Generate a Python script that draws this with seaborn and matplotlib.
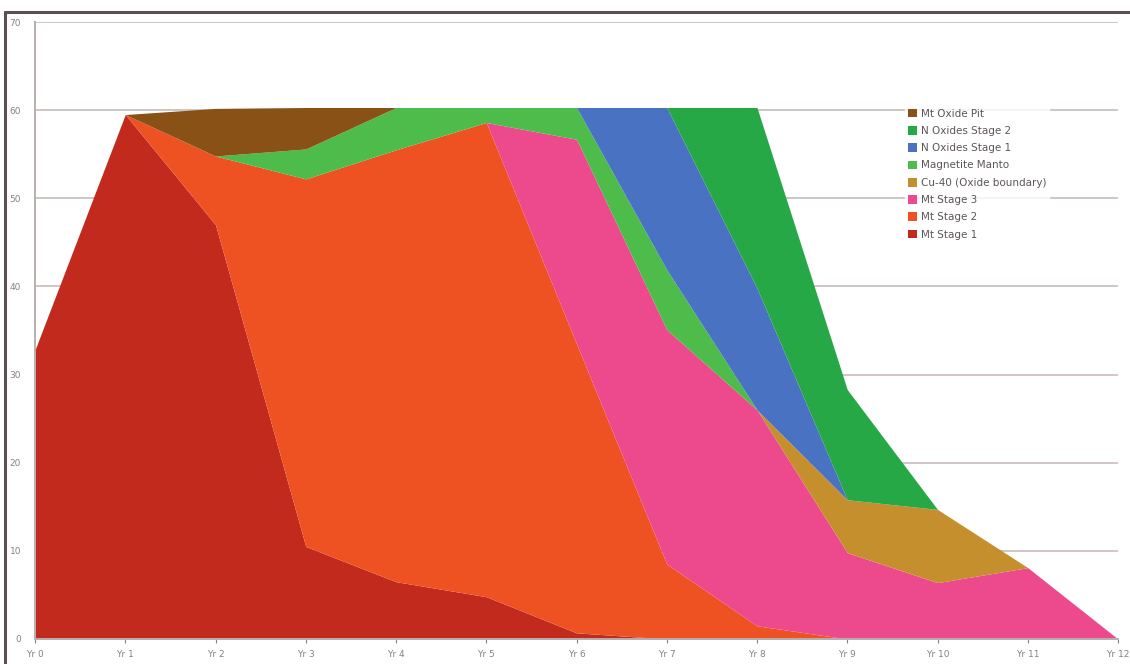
import matplotlib
matplotlib.use("Agg")
import matplotlib.pyplot as plt
from matplotlib.lines import Line2D
from matplotlib.patches import Patch
import numpy as np
import seaborn as sns

# Years on the x axis
years = ["Yr 0", "Yr 1", "Yr 2", "Yr 3", "Yr 4", "Yr 5", "Yr 6",
         "Yr 7", "Yr 8", "Yr 9", "Yr 10", "Yr 11", "Yr 12"]

# Production per source, stacked bottom to top
mt_stage_1     = [32.8, 59.5, 47.0, 10.5, 6.5, 4.8, 0.7, 0.0, 0.0, 0.0, 0.0, 0.0, 0.0]
mt_stage_2     = [0.0, 0.0, 7.8, 41.7, 49.0, 53.8, 32.8, 8.5, 1.5, 0.0, 0.0, 0.0, 0.0]
mt_stage_3     = [0.0, 0.0, 0.0, 0.0, 0.0, 0.0, 23.2, 26.6, 24.5, 9.8, 6.4, 8.1, 0.0]
cu40_oxide     = [0.0, 0.0, 0.0, 0.0, 0.0, 0.0, 0.0, 0.0, 0.0, 6.0, 8.3, 0.0, 0.0]
magnetite      = [0.0, 0.0, 0.0, 3.4, 4.8, 1.7, 3.6, 6.8, 0.0, 0.0, 0.0, 0.0, 0.0]
n_ox_stage_1   = [0.0, 0.0, 0.0, 0.0, 0.0, 0.0, 0.0, 18.4, 13.8, 0.0, 0.0, 0.0, 0.0]
n_ox_stage_2   = [0.0, 0.0, 0.0, 0.0, 0.0, 0.0, 0.0, 0.0, 20.5, 12.5, 0.0, 0.0, 0.0]
mt_oxide_pit   = [0.0, 0.0, 5.4, 4.7, 0.0, 0.0, 0.0, 0.0, 0.0, 0.0, 0.0, 0.0, 0.0]

series_names = ["Mt Stage 1", "Mt Stage 2", "Mt Stage 3", "Cu-40 (Oxide boundary)",
                "Magnetite Manto", "N Oxides Stage 1", "N Oxides Stage 2", "Mt Oxide Pit"]
series_values = [mt_stage_1, mt_stage_2, mt_stage_3, cu40_oxide,
                 magnetite, n_ox_stage_1, n_ox_stage_2, mt_oxide_pit]

y_ticks = [0, 10, 20, 30, 40, 50, 60, 70]

sns.set_theme(style="white")
plt.rcParams["font.family"] = ["DejaVu Sans"]

palette = sns.color_palette(["#C22A1E", "#EE5223", "#EC4A8C", "#C48F2C",
                             "#4DBC4A", "#4A72C2", "#27A847", "#8A5117"])

fig = plt.figure(figsize=(11.30, 6.64), dpi=100)
fig.patch.set_facecolor("white")
ax = fig.add_axes([35 / 1130, 25 / 664, 1083 / 1130, 617 / 664])

x = np.arange(len(years))
ax.set_axisbelow(True)
ax.yaxis.grid(True, color="#CFC6C4", linewidth=1.4)
ax.stackplot(x, *series_values, colors=palette, linewidth=0, zorder=2)

ax.set_xlim(0, len(years) - 1)
ax.set_ylim(0, 70)
ax.set_yticks(y_ticks)
ax.set_yticklabels([str(v) for v in y_ticks])
ax.set_xticks(x)
ax.set_xticklabels(years)
ax.tick_params(axis="y", labelsize=6.5, colors="#8A8080", length=0, pad=10)
ax.tick_params(axis="x", labelsize=6.5, colors="#8A8080", length=3, width=0.8,
               direction="out", pad=5, bottom=True)

for side in ["top", "right"]:
    ax.spines[side].set_visible(False)
ax.spines["left"].set_color("#B8AEAE")
ax.spines["left"].set_linewidth(1.4)
ax.spines["bottom"].set_color("#B8AEAE")
ax.spines["bottom"].set_linewidth(1.4)

# Legend listed top of stack first
handles = [Patch(facecolor=c, edgecolor="none") for c in palette][::-1]
labels = series_names[::-1]
leg = fig.legend(handles, labels, loc="upper left",
                 bbox_to_anchor=(905 / 1130, 1 - 106 / 664),
                 fontsize=7.5, frameon=True, handlelength=0.9, handleheight=0.9,
                 handletextpad=0.4, labelspacing=0.7, borderpad=0.25,
                 borderaxespad=0)
leg.get_frame().set_facecolor("white")
leg.get_frame().set_edgecolor("white")
for t in leg.get_texts():
    t.set_color("#5E5656")

# Dark frame edge along top and left
fig.add_artist(Line2D([5 / 1130, 1], [1 - 12 / 664, 1 - 12 / 664],
                      color="#5A5050", linewidth=2.2, transform=fig.transFigure))
fig.add_artist(Line2D([5 / 1130, 5 / 1130], [0, 1 - 12 / 664],
                      color="#5A5050", linewidth=2.2, transform=fig.transFigure))

fig.savefig("out.png", dpi=100, facecolor="white")
